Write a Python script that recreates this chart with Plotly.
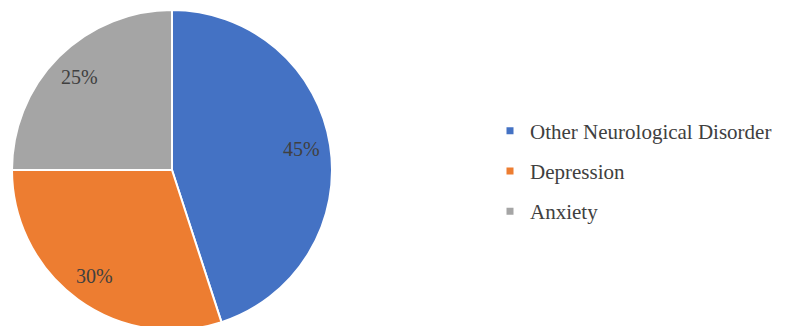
import math
import plotly.graph_objects as go

labels = ["Other Neurological Disorder", "Depression", "Anxiety"]
values = [45, 30, 25]
colors = ["#4472C4", "#ED7D31", "#A5A5A5"]

W, H = 778, 326
OFF = 8  # page body margin
# pie placement in figure pixels
R = 160
CX, CY = 172 - OFF, 170 - OFF
LABEL_R = 0.82
SERIF = "Liberation Serif"

fig = go.Figure()
fig.add_trace(go.Pie(
    labels=labels, values=values, sort=False, direction="clockwise", rotation=0,
    marker=dict(colors=colors, line=dict(color="white", width=2)),
    textinfo="none", showlegend=False, hoverinfo="label+percent",
    domain=dict(x=[(CX - R) / W, (CX + R) / W], y=[1 - (CY + R) / H, 1 - (CY - R) / H]),
))

# percentage labels, positioned along each slice's mid-angle
total = sum(values)
cum = 0
for v in values:
    mid = (cum + v / 2) / total * 2 * math.pi
    cum += v
    px = CX + LABEL_R * R * math.sin(mid)
    py = CY - LABEL_R * R * math.cos(mid)
    fig.add_annotation(
        x=px / W, y=1 - py / H, xref="paper", yref="paper", showarrow=False,
        xanchor="center", yanchor="middle",
        text=f"{round(v / total * 100)}%",
        font=dict(family=SERIF, size=20, color="#404040"),
    )

for lab, col in zip(labels, colors):
    fig.add_trace(go.Scatter(
        x=[None], y=[None], mode="markers", name=lab, legendgroup=lab,
        marker=dict(symbol="square", size=7, color=col),
    ))
fig.update_xaxes(visible=False)
fig.update_yaxes(visible=False)
fig.update_layout(
    width=W, height=H, margin=dict(l=0, r=0, t=0, b=0),
    paper_bgcolor="white", plot_bgcolor="white",
    legend=dict(x=482 / W, y=1 - (171 - OFF) / H, xanchor="left", yanchor="middle",
                font=dict(family=SERIF, size=21, color="#404040"),
                tracegroupgap=10, itemwidth=30),
)
fig.write_html("out.html")
